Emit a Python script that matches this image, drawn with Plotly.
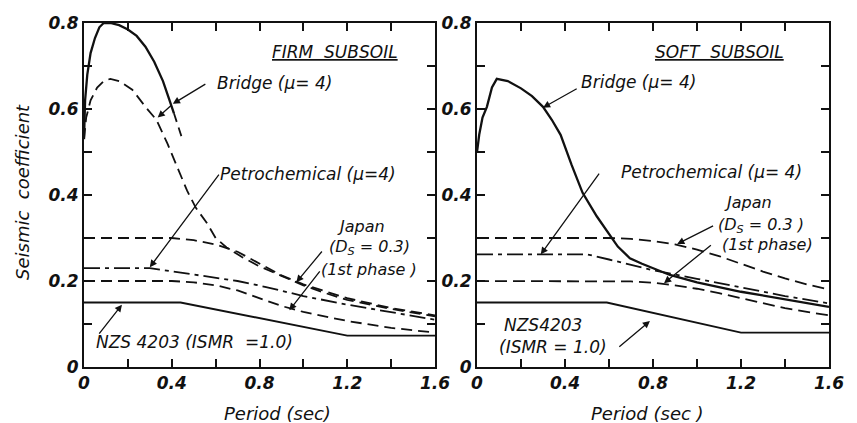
import plotly.graph_objects as go

# ---------------- data ----------------
# FIRM SUBSOIL
firm_bridge_T = [0, 0.005, 0.015, 0.03, 0.05, 0.07, 0.09, 0.12, 0.16, 0.20, 0.24, 0.28, 0.32, 0.36, 0.39, 0.41]
firm_bridge_C = [0.53, 0.62, 0.68, 0.73, 0.765, 0.79, 0.80, 0.80, 0.795, 0.785, 0.77, 0.745, 0.71, 0.665, 0.62, 0.59]
firm_bridge_ext_T = [0.41, 0.445]
firm_bridge_ext_C = [0.59, 0.535]
firm_bridge2_T = [0, 0.01, 0.03, 0.06, 0.09, 0.12, 0.16, 0.22, 0.28, 0.33, 0.38, 0.43, 0.47, 0.51, 0.56, 0.60, 0.65, 0.72, 0.80, 0.90, 1.0, 1.1, 1.2, 1.4, 1.6]
firm_bridge2_C = [0.53, 0.58, 0.62, 0.65, 0.665, 0.67, 0.665, 0.645, 0.605, 0.575, 0.52, 0.46, 0.41, 0.37, 0.335, 0.30, 0.278, 0.256, 0.234, 0.212, 0.19, 0.172, 0.156, 0.135, 0.118]
firm_petro_T = [0, 0.3, 0.5, 0.7, 0.83, 0.93, 1.0, 1.2, 1.4, 1.6]
firm_petro_C = [0.23, 0.23, 0.215, 0.2, 0.186, 0.174, 0.165, 0.145, 0.127, 0.11]
firm_japan_T = [0, 0.4, 0.5, 0.6, 0.7, 0.8, 0.9, 1.0, 1.2, 1.4, 1.6]
firm_japan_ds_C = [0.3, 0.3, 0.295, 0.285, 0.268, 0.24, 0.213, 0.192, 0.16, 0.137, 0.12]
firm_japan_1st_C = [0.2, 0.2, 0.197, 0.19, 0.178, 0.16, 0.142, 0.128, 0.107, 0.091, 0.08]
firm_nzs_T = [0, 0.44, 1.2, 1.6]
firm_nzs_C = [0.15, 0.15, 0.073, 0.073]

# SOFT SUBSOIL
soft_bridge_T = [0, 0.01, 0.025, 0.045, 0.068, 0.09, 0.14, 0.2, 0.25, 0.3, 0.34, 0.38, 0.43, 0.48, 0.545, 0.59, 0.64, 0.695, 0.75, 0.877, 1.0, 1.2, 1.4, 1.6]
soft_bridge_C = [0.5, 0.54, 0.58, 0.605, 0.65, 0.67, 0.665, 0.648, 0.63, 0.605, 0.575, 0.54, 0.47, 0.405, 0.35, 0.318, 0.28, 0.253, 0.24, 0.214, 0.197, 0.175, 0.157, 0.14]
soft_petro_T = [0, 0.5, 0.6, 0.7, 0.8, 1.0, 1.2, 1.4, 1.6]
soft_petro_C = [0.262, 0.262, 0.25, 0.238, 0.225, 0.205, 0.185, 0.165, 0.148]
soft_japan_T = [0, 0.6, 0.7, 0.8, 0.9, 1.0, 1.1, 1.2, 1.3, 1.4, 1.5, 1.6]
soft_japan_ds_C = [0.3, 0.3, 0.298, 0.293, 0.285, 0.273, 0.258, 0.24, 0.222, 0.206, 0.192, 0.18]
soft_japan_1st_C = [0.2, 0.2, 0.199, 0.196, 0.19, 0.182, 0.172, 0.16, 0.148, 0.137, 0.128, 0.12]
soft_nzs_T = [0, 0.59, 1.2, 1.6]
soft_nzs_C = [0.15, 0.15, 0.08, 0.08]

# axes ticks
x_tickvals = [0, 0.2, 0.4, 0.6, 0.8, 1.0, 1.2, 1.4, 1.6]
x_ticktext = ["0", "", "0.4", "", "0.8", "", "1.2", "", "1.6"]
y_tickvals = [0, 0.1, 0.2, 0.3, 0.4, 0.5, 0.6, 0.7, 0.8]
y_ticktext = ["0", "", "0.2", "", "0.4", "", "0.6", "", "0.8"]

# ---------------- figure ----------------
INK = "#111111"
FONT = "DejaVu Sans"
fig = go.Figure()

def add(x, y, xa, ya, dash, width=2.0):
    fig.add_trace(go.Scatter(x=x, y=y, xaxis=xa, yaxis=ya, mode="lines",
                             line=dict(color=INK, width=width, dash=dash),
                             hoverinfo="skip", showlegend=False))

JDASH = "11px,6px"
PDASH = "16px,5px,4px,5px"

# firm
add(firm_japan_T, firm_japan_ds_C, "x", "y", JDASH, 1.8)
add(firm_japan_T, firm_japan_1st_C, "x", "y", JDASH, 1.8)
add(firm_petro_T, firm_petro_C, "x", "y", PDASH, 1.8)
add(firm_bridge2_T, firm_bridge2_C, "x", "y", "11px,6px", 1.8)
add(firm_nzs_T, firm_nzs_C, "x", "y", "solid", 1.9)
add(firm_bridge_T, firm_bridge_C, "x", "y", "solid", 2.3)
add(firm_bridge_ext_T, firm_bridge_ext_C, "x", "y", "9px,6px", 1.8)
# soft
add(soft_japan_T, soft_japan_ds_C, "x2", "y2", "12px,6px", 1.8)
add(soft_japan_T, soft_japan_1st_C, "x2", "y2", "12px,6px", 1.8)
add(soft_petro_T, soft_petro_C, "x2", "y2", PDASH, 1.8)
add(soft_nzs_T, soft_nzs_C, "x2", "y2", "solid", 1.9)
add(soft_bridge_T, soft_bridge_C, "x2", "y2", "solid", 2.3)

W, H = 857, 423
def fx(px):
    return px / W
def fy(py):
    return 1 - py / H

tickfont = dict(family=FONT, size=17, color=INK, style="italic", weight="bold")
axis_common = dict(showline=True, linecolor=INK, linewidth=2, mirror="ticks",
                   ticks="inside", ticklen=8, tickwidth=1.5, tickcolor=INK,
                   showgrid=False, zeroline=False, tickfont=tickfont,
                   automargin=False)

titlefont = dict(family=FONT, size=18, color=INK, style="italic")

fig.update_layout(
    width=W, height=H,
    margin=dict(l=0, r=0, t=0, b=0, autoexpand=False),
    paper_bgcolor="white", plot_bgcolor="white",
    xaxis=dict(domain=[fx(84), fx(435)], range=[0, 1.6], tickvals=x_tickvals,
               ticktext=x_ticktext, anchor="y", **axis_common),
    yaxis=dict(domain=[fy(367), fy(23)], range=[0, 0.8], tickvals=y_tickvals,
               ticktext=y_ticktext, anchor="x", **axis_common),
    xaxis2=dict(domain=[fx(477), fx(829)], range=[0, 1.6], tickvals=x_tickvals,
                ticktext=x_ticktext, anchor="y2", **axis_common),
    yaxis2=dict(domain=[fy(367), fy(23)], range=[0, 0.8], tickvals=y_tickvals,
                ticktext=y_ticktext, anchor="x2", **axis_common),
)

annots = []
def label(text, x, y, xr, yr, size=17, align="center"):
    annots.append(dict(text=text, x=x, y=y, xref=xr, yref=yr, showarrow=False,
                       font=dict(family=FONT, size=size, color=INK, style="italic"),
                       align=align, xanchor="center", yanchor="middle"))

def arrow(tx, ty, hx, hy, xr, yr):
    annots.append(dict(text="", x=hx, y=hy, ax=tx, ay=ty, xref=xr, yref=yr,
                       axref=xr, ayref=yr, showarrow=True, arrowhead=2,
                       arrowsize=1.1, arrowwidth=1.3, arrowcolor=INK))

# firm panel labels
label("<u>FIRM  SUBSOIL</u>", 1.145, 0.733, "x", "y")
label("Bridge (μ= 4)", 0.87, 0.66, "x", "y")
label("Petrochemical (μ=4)", 1.02, 0.45, "x", "y")
label("Japan", 1.264, 0.326, "x", "y", size=16)
label("(D<sub>S</sub> = 0.3)", 1.30, 0.277, "x", "y", size=16)
label("(1st phase )", 1.30, 0.226, "x", "y", size=16)
label("NZS 4203 (ISMR  =1.0)", 0.505, 0.058, "x", "y")
arrow(0.56, 0.66, 0.405, 0.612, "x", "y")
arrow(0.405, 0.612, 0.336, 0.58, "x", "y")
arrow(0.62, 0.451, 0.30, 0.232, "x", "y")
arrow(1.09, 0.272, 0.968, 0.197, "x", "y")
arrow(1.08, 0.226, 0.936, 0.132, "x", "y")
arrow(0.064, 0.074, 0.173, 0.145, "x", "y")

# soft panel labels
label("<u>SOFT  SUBSOIL</u>", 1.10, 0.733, "x2", "y2")
label("Bridge (μ= 4)", 0.735, 0.663, "x2", "y2")
label("Petrochemical (μ= 4)", 1.064, 0.454, "x2", "y2")
label("Japan", 1.23, 0.382, "x2", "y2", size=16)
label("(D<sub>S</sub> = 0.3 )", 1.29, 0.33, "x2", "y2", size=16)
label("(1st phase)", 1.32, 0.285, "x2", "y2", size=16)
label("NZS4203", 0.30, 0.098, "x2", "y2")
label("(ISMR = 1.0)", 0.345, 0.047, "x2", "y2")
arrow(0.46, 0.649, 0.30, 0.603, "x2", "y2")
arrow(0.56, 0.453, 0.29, 0.262, "x2", "y2")
arrow(1.08, 0.33, 0.91, 0.286, "x2", "y2")
arrow(1.07, 0.286, 0.85, 0.195, "x2", "y2")
arrow(0.64, 0.044, 0.786, 0.107, "x2", "y2")

# axis titles
annots.append(dict(text="Period (sec)", x=fx(277), y=fy(413), xref="paper", yref="paper",
                   showarrow=False, font=titlefont, xanchor="center", yanchor="middle"))
annots.append(dict(text="Period (sec )", x=fx(647), y=fy(413), xref="paper", yref="paper",
                   showarrow=False, font=titlefont, xanchor="center", yanchor="middle"))
annots.append(dict(text="Seismic  coefficient", x=fx(22), y=fy(192), xref="paper", yref="paper",
                   showarrow=False, font=titlefont, textangle=-90,
                   xanchor="center", yanchor="middle"))

fig.update_layout(annotations=annots)
fig.write_html("out.html", config={"displayModeBar": False},
               post_script="document.body.style.margin='0';document.body.style.overflow='hidden';")
